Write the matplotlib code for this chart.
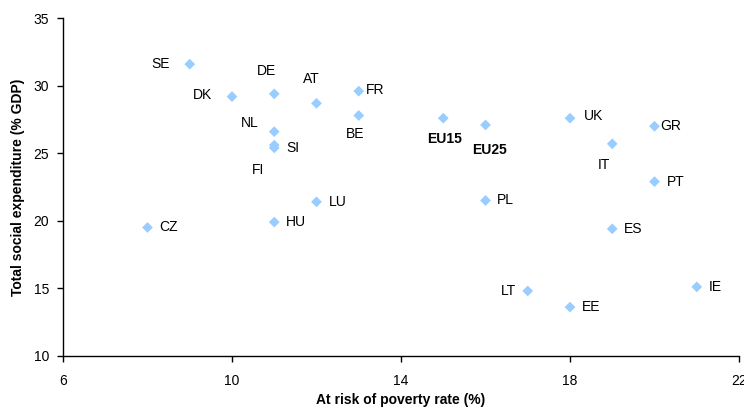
import matplotlib
matplotlib.use("Agg")
import matplotlib.pyplot as plt

plt.rcParams['font.family'] = ['Liberation Sans', 'DejaVu Sans']

countries = ["SE", "DK", "DE", "AT", "FR", "BE", "NL", "SI", "FI", "LU", "CZ", "HU",
             "EU15", "EU25", "UK", "IT", "GR", "PT", "PL", "ES", "IE", "LT", "EE"]
poverty = [9, 10, 11, 12, 13, 13, 11, 11, 11, 12, 8, 11,
           15, 16, 18, 19, 20, 20, 16, 19, 21, 17, 18]
expenditure = [31.6, 29.2, 29.4, 28.7, 29.6, 27.8, 26.6, 25.6, 25.4, 21.4, 19.5, 19.9,
               27.6, 27.1, 27.6, 25.7, 27.0, 22.9, 21.5, 19.4, 15.1, 14.8, 13.6]
x_ticks = [6, 10, 14, 18, 22]
y_ticks = [10, 15, 20, 25, 30, 35]

# label placement (offset in pixels, horizontal alignment)
label_pos = {
    "SE": (-20, 0, 'right'), "DK": (-20, 2, 'right'), "DE": (-8, 23, 'center'),
    "AT": (-5, 24, 'center'), "FR": (7, 1, 'left'), "BE": (-4, -19, 'center'),
    "NL": (-16, 9, 'right'), "SI": (12, -3, 'left'), "FI": (-16, -22, 'center'),
    "LU": (12, 0, 'left'), "CZ": (12, 0, 'left'), "HU": (12, 0, 'left'),
    "EU15": (1, -21, 'center'), "EU25": (4, -25, 'center'), "UK": (14, 2, 'left'),
    "IT": (-8, -21, 'center'), "GR": (6, 0, 'left'), "PT": (12, 0, 'left'),
    "PL": (11, 0, 'left'), "ES": (12, 0, 'left'), "IE": (12, 0, 'left'),
    "LT": (-12, 0, 'right'), "EE": (12, 0, 'left'),
}

fig = plt.figure(figsize=(7.44, 4.12), dpi=100)
ax = fig.add_axes([63/744, 1-355.7/412, (739-63)/744, (355.7-18.3)/412])

ax.scatter(poverty, expenditure, marker='D', s=30, color='#99CCFF', edgecolors='none', zorder=3)

px = 0.72  # points per pixel at 100 dpi
for c, xv, yv in zip(countries, poverty, expenditure):
    dx, dy, ha = label_pos[c]
    ax.annotate(c, (xv, yv), xytext=(dx*px, dy*px), textcoords='offset points',
                ha=ha, va='center', fontsize=10,
                fontweight='bold' if c.startswith('EU') else 'normal', color='black')

ax.set_xlim(6, 22)
ax.set_ylim(10, 35)
ax.set_xticks(x_ticks)
ax.set_yticks(y_ticks)
ax.tick_params(direction='out', length=4, width=1, labelsize=10, colors='black')
ax.tick_params(axis='x', pad=9)
ax.tick_params(axis='y', pad=6)
for s in ['top', 'right']:
    ax.spines[s].set_visible(False)
for s in ['left', 'bottom']:
    ax.spines[s].set_color('black')
    ax.spines[s].set_linewidth(1)

fig.text(401/744, 1-400/412, "At risk of poverty rate (%)", ha='center', va='center',
         fontsize=10, fontweight='bold')
fig.text(18/744, 1-187/412, "Total social expenditure (% GDP)", ha='center', va='center',
         fontsize=10, fontweight='bold', rotation=90)

fig.savefig("out.png", dpi=100)
